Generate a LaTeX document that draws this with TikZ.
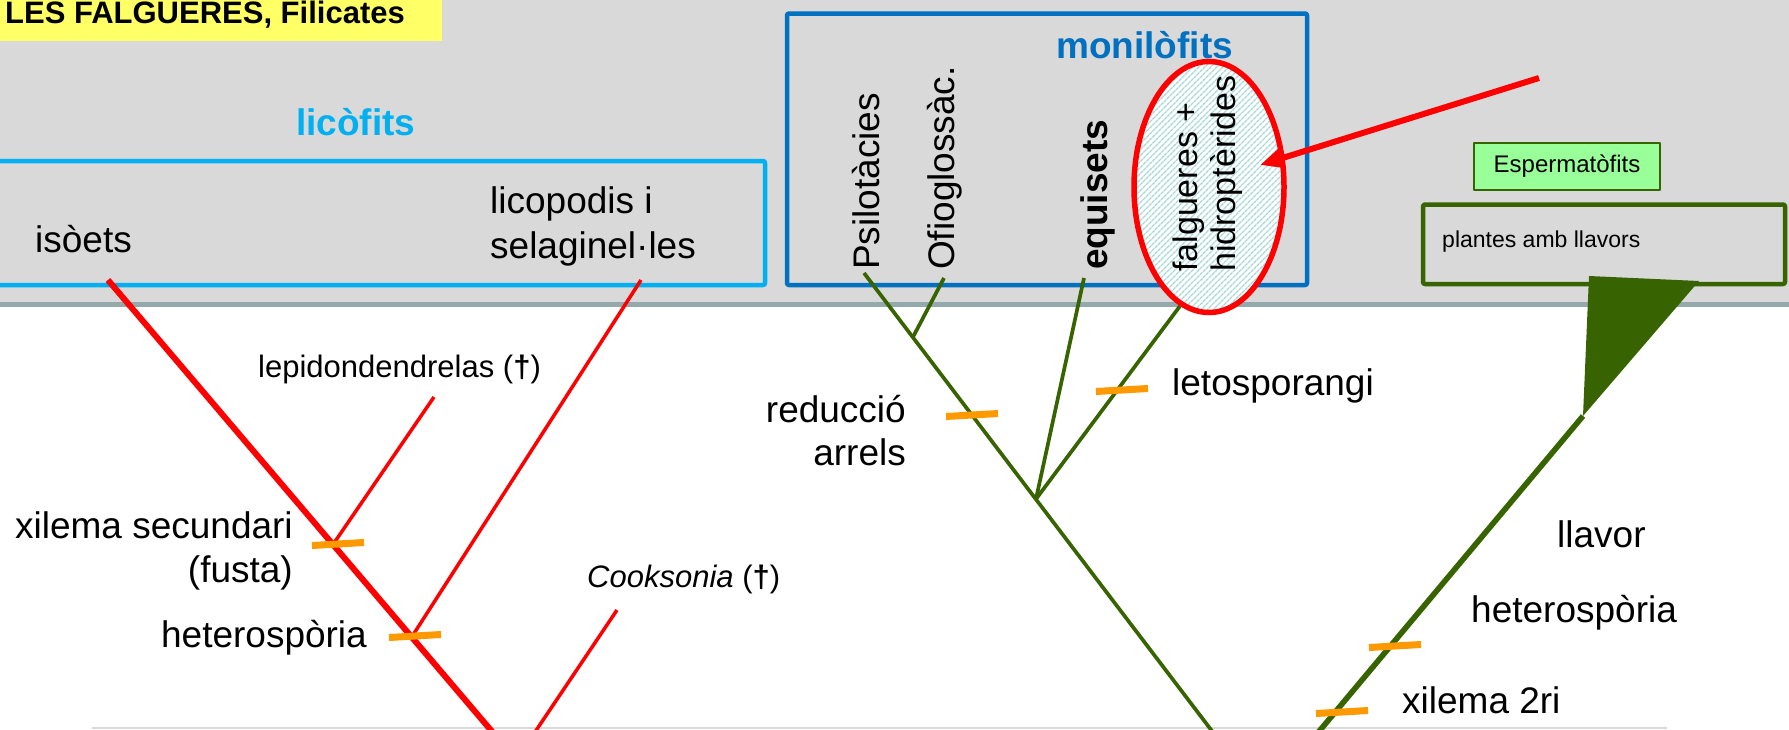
\documentclass[tikz,border=0pt]{standalone}
\usepackage{fontspec}
\setmainfont{Liberation Sans}
\usetikzlibrary{arrows.meta,shapes.geometric,patterns.meta}
\definecolor{fonsgris}{HTML}{D9D9D9}
\definecolor{liniagris}{HTML}{93A9AB}
\definecolor{groctitol}{HTML}{FFFF66}
\definecolor{blaulico}{HTML}{00B0F0}
\definecolor{blaumoni}{HTML}{0070C0}
\definecolor{verdarbre}{HTML}{376400}
\definecolor{taronja}{HTML}{FF9900}
\definecolor{verdclar}{HTML}{99FF99}
\definecolor{ratllat}{HTML}{A8D8D8}
\newcommand{\mida}[2]{\fontsize{#1}{#2}\selectfont}
\begin{document}
\begin{tikzpicture}[x=1pt,y=-1pt,line join=round,
		txt/.style={inner sep=0pt,font=\mida{37}{44}},
		petit/.style={inner sep=0pt,font=\mida{31}{37}},
		tronc/.style={red,line width=6pt},
		branca/.style={red,line width=3.5pt},
		verd/.style={verdarbre,line width=3.7pt},
		marca/.style={taronja,line width=7pt},
		caixa/.style={line width=4.5pt,rounded corners=2pt}]
	\useasboundingbox (0,0) rectangle (1789,729);
	\clip (0,0) rectangle (1789,729);
	\def\ybase{302} \def\ybot{735}
	% fons
	\fill[fonsgris] (0,0) rectangle (1789,\ybase);
	\draw[liniagris,line width=5pt] (0,\ybase+2.5) -- (1789,\ybase+2.5);
	\draw[fonsgris,line width=2pt] (92,728) -- (1667,728);
	\fill[groctitol] (0,0) rectangle (442,41);
	\node[anchor=base east,inner sep=0pt,font=\mida{31}{36}\bfseries] (titol) at (405,23) {LES FALGUERES, Filicates};
	% caixes
	\draw[caixa,blaulico] (-10,161) rectangle (765,285);
	\draw[caixa,blaumoni] (787,13.5) rectangle (1307,285);
	\draw[caixa,verdarbre] (1423,204.5) rectangle (1785,284);
	\node[txt,anchor=base west,font=\mida{37}{44}\bfseries,blaulico] (licofits) at (296,135) {licòfits};
	\node[txt,anchor=base west,font=\mida{37}{44}\bfseries,blaumoni] (monilofits) at (1056,58) {monilòfits};
	\node[draw=verdarbre,line width=2pt,fill=verdclar,minimum width=186pt,minimum height=47pt,inner sep=0pt,font=\mida{24}{28}] (esperma) at (1567,166.5) {Espermatòfits};
	\node[anchor=base west,inner sep=0pt,font=\mida{23}{27}] (llavors) at (1442,247) {plantes amb llavors};
	% noms dels grups
	\node[txt,anchor=base west] (isoets) at (35,252) {isòets};
	\node[txt,anchor=base west,align=left,font=\mida{37}{45}] (licopodis) at (490,258) {licopodis i\\selaginel·les};
	\node[txt,rotate=90,anchor=base west] (psilo) at (879,270) {Psilotàcies};
	\node[txt,rotate=90,anchor=base west] (ofio) at (954,270) {Ofioglossàc.};
	\node[txt,rotate=90,anchor=base west,font=\mida{37}{44}\bfseries] (equisets) at (1107,270) {equisets};
	% arbre dels licofits
	\coordinate (isoTop) at (108,280);
	\coordinate (isoBot) at (495,\ybot);
	\coordinate (lyA) at (334,543);
	\coordinate (lyB) at (413,635);
	\coordinate (lepTop) at (434,397);
	\coordinate (licTop) at (641,280);
	\coordinate (cookTop) at (617,610);
	\coordinate (cookBot) at (533,\ybot);
	\draw[tronc] (isoTop) -- (isoBot);
	\draw[branca] (lyA) -- (lepTop);
	\draw[branca] (lyB) -- (licTop);
	\draw[branca] (cookTop) -- (cookBot);
	% arbre dels monilofits
	\coordinate (psiTop) at (864,273);
	\coordinate (monBot) at (1215,\ybot);
	\coordinate (monB) at (913,337);
	\coordinate (monA) at (1036,499);
	\coordinate (ofiTop) at (944,278);
	\coordinate (equTop) at (1084,278);
	\coordinate (fernTip) at (1180,306);
	\draw[verd] (psiTop) -- (monBot);
	\draw[verd] (monB) -- (ofiTop);
	\draw[verd] (monA) -- (equTop);
	\draw[verd] (monA) -- (fernTip);
	% espermatofits
	\coordinate (spTip) at (1583,416);
	\coordinate (spBot) at (1316,\ybot);
	\draw[verdarbre,line width=5.6pt] (spTip) -- (spBot);
	\fill[verdarbre] (1589,276) -- (1699,281) -- (spTip) -- cycle;
	% caracters
	\foreach \cx/\cy in {338/544,415/636,972/415,1122/390,1395/646,1342/712}
		\draw[marca] (\cx-26,\cy+1.5) -- (\cx+26,\cy-1.5);
	\node[petit,anchor=base west] (lepido) at (258,377) {lepidondendrelas (\textbf{†})};
	\node[txt,anchor=base east,align=right] (xilema) at (293,582) {xilema secundari\\(fusta)};
	\node[txt,anchor=base east] (hetero) at (367,647) {heterospòria};
	\node[petit,anchor=base west] (cooksonia) at (587,587) {\textit{Cooksonia} (\textbf{†})};
	\node[txt,anchor=base east,align=right,font=\mida{37}{43}] (reduccio) at (906,465) {reducció\\arrels};
	\node[txt,anchor=base west] (letos) at (1172,395) {letosporangi};
	\node[txt,anchor=base west] (llavor) at (1557,547) {llavor};
	\node[txt,anchor=base west] (heteroSp) at (1471,622) {heterospòria};
	\node[txt,anchor=base west] (xilemaSp) at (1402,713) {xilema 2ri};
	% falgueres
	\node[ellipse,draw=red,line width=5.5pt,minimum width=150pt,minimum height=251pt,inner sep=0pt,
		preaction={fill=white},pattern={Lines[angle=45,distance=4pt,line width=1.6pt]},pattern color=ratllat] (falgueres) at (1209,187) {};
	\node[inner sep=0pt,rotate=90,anchor=base west,align=left,font=\mida{34}{38}] (falgtxt) at (1235,272) {falgueres +\\hidroptèrides};
	\coordinate (fletxa) at (1539,78);
	\coordinate (punta) at (1260,165);
	\draw[red,line width=6pt,-{Triangle[length=24pt,width=20pt]}] (fletxa) -- (punta);
\end{tikzpicture}
\end{document}
